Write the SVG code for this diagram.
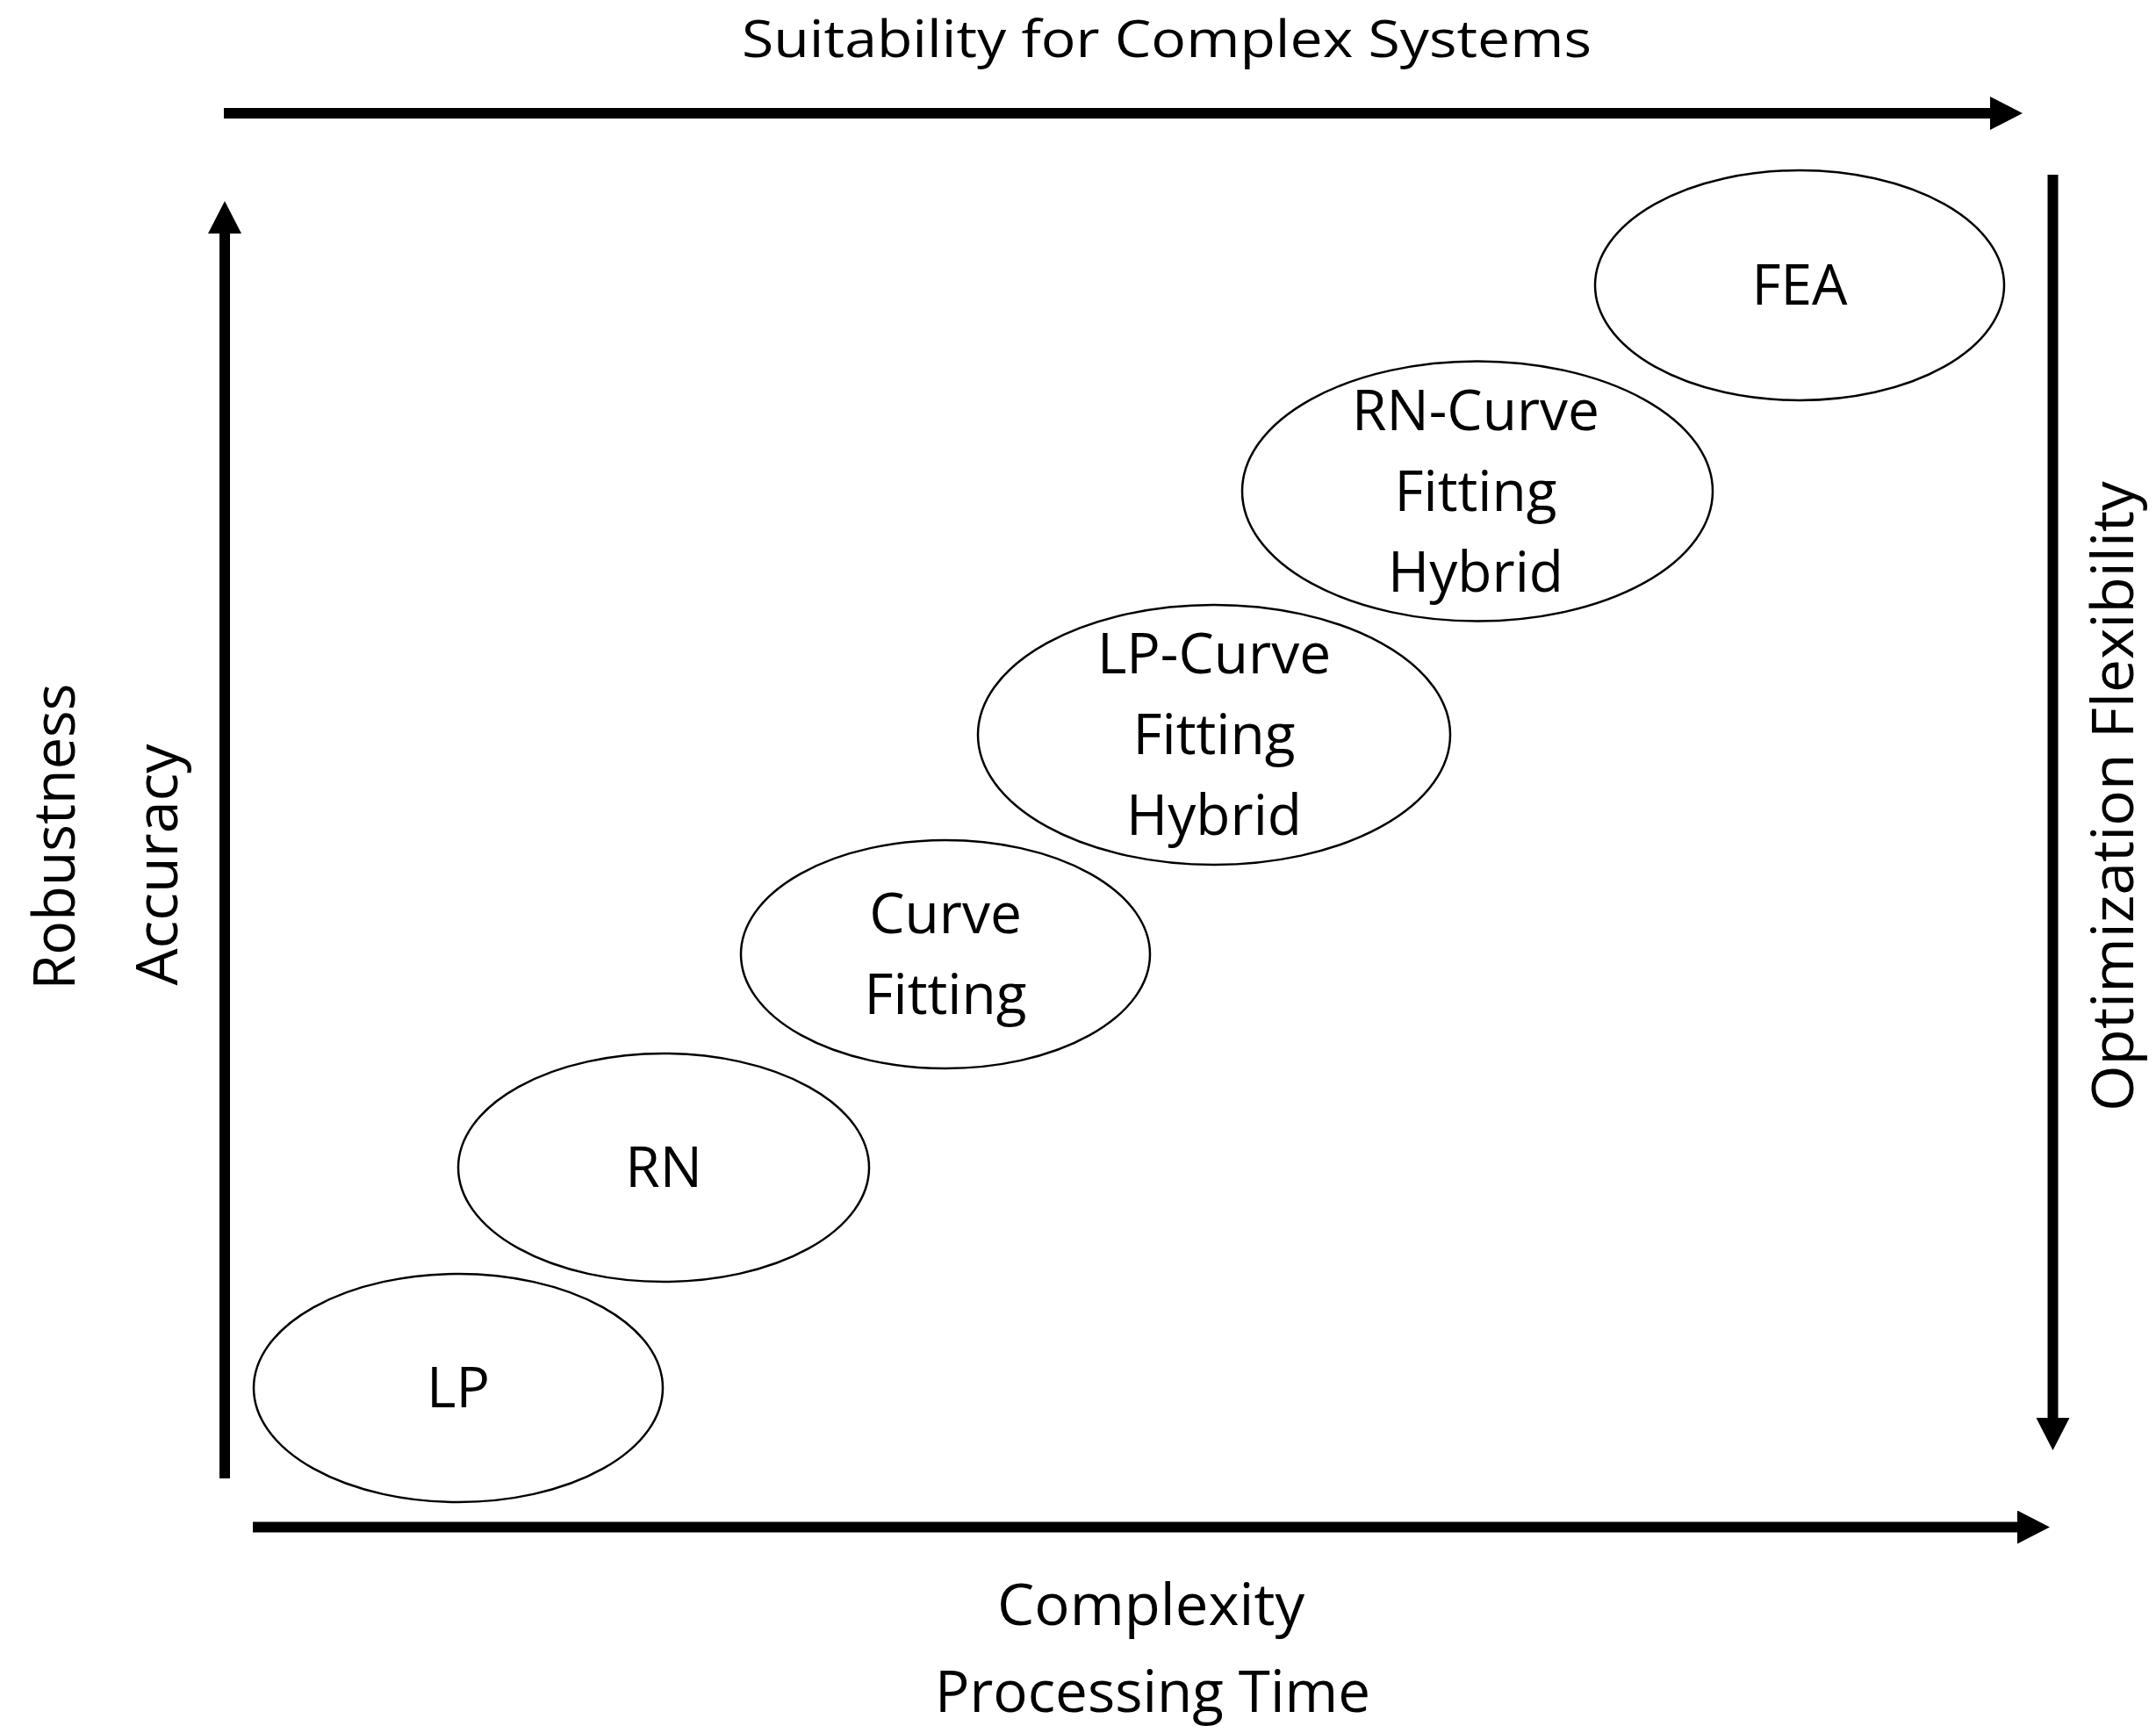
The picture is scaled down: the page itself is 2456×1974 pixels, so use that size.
<svg xmlns="http://www.w3.org/2000/svg" width="2456" height="1974" viewBox="0 0 2456 1974">
  <style>
    .node ellipse { fill: #ffffff; stroke: #000000; stroke-width: 2.5; }
    .lbl { font-family: "Open Sans", "Noto Sans", "Liberation Sans", sans-serif; font-size: 64px; fill: #000000; text-anchor: middle; }
    .axis { font-family: "Open Sans", "Noto Sans", "Liberation Sans", sans-serif; font-size: 66px; fill: #000000; text-anchor: middle; }
    .title { font-size: 58px; }
    .arrow { stroke: #000000; stroke-width: 12; fill: none; marker-end: url(#head); }
  </style>
  <defs>
    <marker id="head" markerUnits="userSpaceOnUse" markerWidth="37" markerHeight="38" refX="0" refY="19" orient="auto" viewBox="0 0 37 38">
      <path d="M0,0 L37,19 L0,38 Z" fill="#000000"/>
    </marker>
  </defs>
  <rect width="2456" height="1974" fill="#ffffff"/>

  <g id="connectors">
    <line class="arrow" x1="255" y1="129" x2="2267" y2="129"/>
    <line class="arrow" x1="256" y1="1684" x2="256" y2="266"/>
    <line class="arrow" x1="2338.5" y1="199" x2="2338.5" y2="1615"/>
    <line class="arrow" x1="288" y1="1739.5" x2="2298" y2="1739.5"/>
  </g>

  <g id="axis-labels">
    <text class="axis title" x="1329" y="65" textLength="968" lengthAdjust="spacingAndGlyphs">Suitability for Complex Systems</text>
    <text class="axis" x="1311" y="1851" textLength="350" lengthAdjust="spacingAndGlyphs">Complexity</text>
    <text class="axis" x="1313" y="1950" textLength="496" lengthAdjust="spacingAndGlyphs">Processing Time</text>
    <text class="axis" transform="translate(85,953) rotate(-90)" x="0" y="0" textLength="349" lengthAdjust="spacingAndGlyphs">Robustness</text>
    <text class="axis" transform="translate(202,985) rotate(-90)" x="0" y="0" textLength="275" lengthAdjust="spacingAndGlyphs">Accuracy</text>
    <text class="axis" transform="translate(2430,907) rotate(-90)" x="0" y="0" textLength="718" lengthAdjust="spacingAndGlyphs">Optimization Flexibility</text>
  </g>

  <g id="node-lp" class="node">
    <ellipse cx="522" cy="1581" rx="233" ry="130"/>
    <text class="lbl" x="522" y="1603">LP</text>
  </g>
  <g id="node-rn" class="node">
    <ellipse cx="756" cy="1330" rx="234" ry="130"/>
    <text class="lbl" x="756" y="1352">RN</text>
  </g>
  <g id="node-curve-fitting" class="node">
    <ellipse cx="1077" cy="1087" rx="233" ry="130"/>
    <text class="lbl" x="1077" y="1063">Curve</text>
    <text class="lbl" x="1077" y="1155">Fitting</text>
  </g>
  <g id="node-lp-curve-fitting-hybrid" class="node">
    <ellipse cx="1383" cy="837" rx="269" ry="148"/>
    <text class="lbl" x="1383" y="767">LP-Curve</text>
    <text class="lbl" x="1383" y="859">Fitting</text>
    <text class="lbl" x="1383" y="951">Hybrid</text>
  </g>
  <g id="node-rn-curve-fitting-hybrid" class="node">
    <ellipse cx="1683" cy="559.5" rx="268" ry="148"/>
    <text class="lbl" x="1681" y="490">RN-Curve</text>
    <text class="lbl" x="1681" y="582">Fitting</text>
    <text class="lbl" x="1681" y="674">Hybrid</text>
  </g>
  <g id="node-fea" class="node">
    <ellipse cx="2050" cy="325" rx="233" ry="131"/>
    <text class="lbl" x="2050" y="347">FEA</text>
  </g>
</svg>
